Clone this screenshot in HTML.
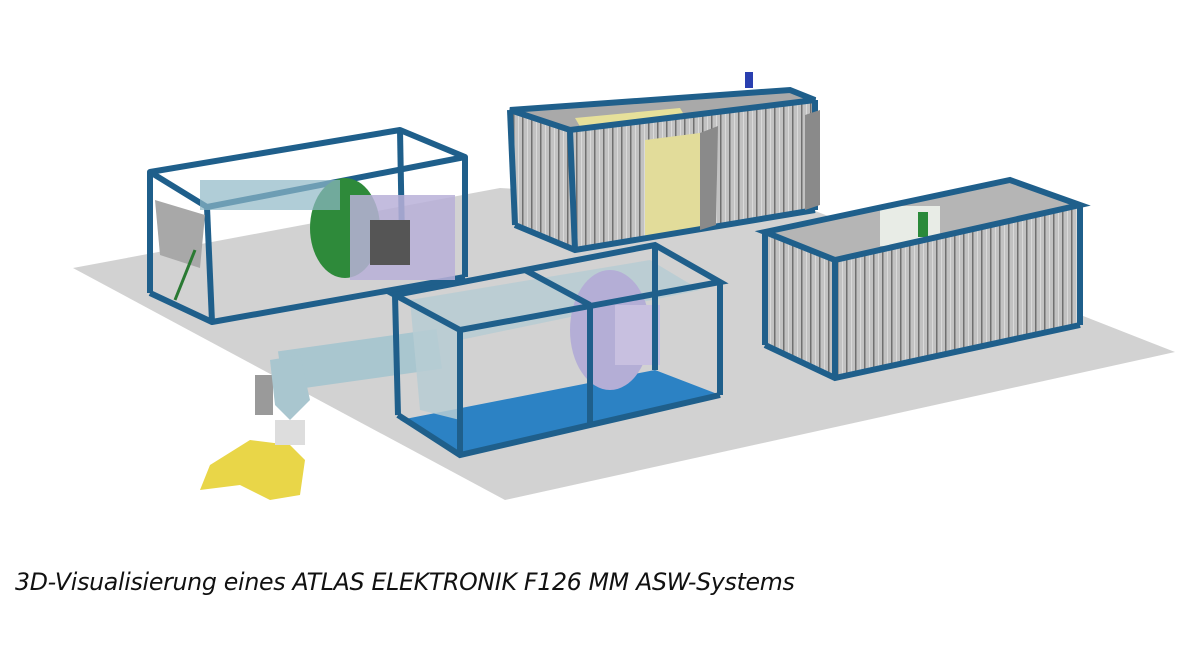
<!DOCTYPE html>
<html><head><meta charset="utf-8"><style>
html,body{margin:0;padding:0;background:#fff;width:1200px;height:657px;overflow:hidden}
.cap{position:absolute;left:15px;top:568px;font-family:"DejaVu Sans","Liberation Sans",sans-serif;font-style:italic;font-weight:300;font-size:24px;color:#111;letter-spacing:-0.3px;white-space:nowrap;transform:scaleX(0.985);transform-origin:left}
</style></head><body>
<svg width="1200" height="657" style="position:absolute;left:0;top:0">
<defs>
<pattern id="st" width="9" height="10" patternUnits="userSpaceOnUse"><rect width="9" height="10" fill="#c2c2c2"/><rect x="0" width="1.5" height="10" fill="#707070"/><rect x="5" width="1" height="10" fill="#dadada"/></pattern>
</defs>
<polygon points="73,268 500,188 800,205 1175,352 505,500" fill="#d2d2d2"/>
<!-- left frame -->
<g stroke="#1f5f8b" stroke-width="6" fill="none" stroke-linejoin="round">
<polygon points="150,172 400,130 465,157 207,207"/>
<line x1="150" y1="172" x2="150" y2="293"/><line x1="207" y1="207" x2="212" y2="322"/><line x1="465" y1="157" x2="465" y2="277"/><line x1="400" y1="130" x2="402" y2="240"/>
<polyline points="150,293 212,322 465,277"/>
</g>
<polygon points="155,200 205,215 200,268 160,255" fill="#a8a8a8"/>
<ellipse cx="345" cy="228" rx="35" ry="50" fill="#2e8a3a"/>
<rect x="200" y="180" width="140" height="30" fill="#8fb8c6" opacity="0.7"/>
<rect x="350" y="195" width="105" height="85" fill="#b8b0d8" opacity="0.85"/>
<rect x="370" y="220" width="40" height="45" fill="#555"/>
<line x1="175" y1="300" x2="195" y2="250" stroke="#2a7a33" stroke-width="3"/>
<!-- top container -->
<polygon points="510,110 790,90 815,100 570,130" fill="#a9a9a9"/>
<polygon points="575,118 680,108 690,125 585,135" fill="#e6e09a"/>
<polygon points="510,110 570,130 575,250 515,225" fill="url(#st)"/>
<polygon points="570,130 815,100 815,210 575,250" fill="url(#st)"/>
<polygon points="645,140 700,133 700,228 645,238" fill="#e2dc9a"/>
<g stroke="#1f5f8b" stroke-width="6" fill="none"><polygon points="510,110 790,90 815,100 570,130"/><line x1="510" y1="110" x2="515" y2="225"/><line x1="570" y1="130" x2="575" y2="250"/><line x1="815" y1="100" x2="815" y2="210"/><polyline points="515,225 575,250 815,210"/></g>
<polygon points="700,133 718,126 716,225 700,230" fill="#8a8a8a"/>
<polygon points="805,115 820,110 820,205 805,210" fill="#8a8a8a"/>
<rect x="745" y="72" width="8" height="16" fill="#2a3fb0"/>
<!-- right container -->
<polygon points="765,232 1010,180 1080,205 835,260" fill="#b5b5b5"/>
<rect x="880" y="206" width="60" height="40" fill="#e8ece6"/><rect x="918" y="212" width="10" height="25" fill="#2a8a3a"/>
<polygon points="765,232 835,260 835,378 765,345" fill="url(#st)"/>
<polygon points="835,260 1080,205 1080,325 835,378" fill="url(#st)"/>
<g stroke="#1f5f8b" stroke-width="6" fill="none"><polygon points="765,232 1010,180 1080,205 835,260"/><line x1="765" y1="232" x2="765" y2="345"/><line x1="835" y1="260" x2="835" y2="378"/><line x1="1080" y1="205" x2="1080" y2="325"/><polyline points="765,345 835,378 1080,325"/></g>
<!-- center frame -->
<polygon points="400,420 460,455 720,395 655,370" fill="#2c82c4"/>
<rect x="280" y="340" width="160" height="40" fill="#a9c6cf" transform="rotate(-8 360 360)"/>
<polygon points="410,300 650,260 700,290 460,340 460,420 420,410" fill="#b7cdd4" opacity="0.85"/>
<ellipse cx="610" cy="330" rx="40" ry="60" fill="#b4aed6"/>
<rect x="615" y="305" width="45" height="60" fill="#c8c0e0"/>
<g stroke="#1f5f8b" stroke-width="6" fill="none"><polygon points="395,295 655,245 720,282 460,330"/><line x1="395" y1="295" x2="398" y2="415"/><line x1="460" y1="330" x2="460" y2="455"/><line x1="720" y1="282" x2="720" y2="395"/><line x1="655" y1="245" x2="655" y2="370"/><line x1="525" y1="270" x2="590" y2="305"/><line x1="590" y1="305" x2="590" y2="425"/><polyline points="398,415 460,455 720,395"/></g>
<!-- arm & vehicle -->
<rect x="255" y="375" width="18" height="40" fill="#9a9a9a"/>
<polygon points="270,360 300,355 310,400 290,420 275,405" fill="#a9c6cf"/>
<polygon points="210,465 250,440 290,445 305,460 300,495 270,500 240,485 200,490" fill="#e9d648"/>
<rect x="275" y="420" width="30" height="25" fill="#ddd"/>
</svg>
<div class="cap">3D-Visualisierung eines ATLAS ELEKTRONIK F126 MM ASW-Systems</div>
</body></html>
